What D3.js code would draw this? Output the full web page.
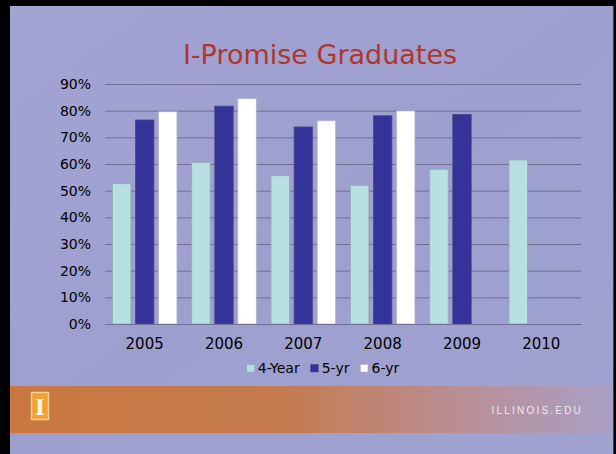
<!DOCTYPE html>
<html>
<head>
<meta charset="utf-8">
<script src="https://cdn.jsdelivr.net/npm/d3@7"></script>
<style>
  body { margin: 0; background: #000; }
  svg { display: block; font-family: 'DejaVu Sans', Verdana, sans-serif; }
</style>
</head>
<body>
<div id="chart"></div>
<script>
'use strict';

// datos
const years = ['2005', '2006', '2007', '2008', '2009', '2010'];
const seriesNames = ['4-Year', '5-yr', '6-yr'];
const fourYear = [0.526, 0.606, 0.556, 0.519, 0.580, 0.615];
const fiveYear = [0.765, 0.817, 0.739, 0.781, 0.786, null];
const sixYear = [0.796, 0.845, 0.762, 0.799, null, null];
const yTicks = [0, 0.1, 0.2, 0.3, 0.4, 0.5, 0.6, 0.7, 0.8, 0.9];

const colors = ['#b8e0e0', '#333399', '#ffffff'];
const strokes = ['#8fb0b4', '#4a4a8c', '#b4b4cc'];

drawSlide('#chart');

function drawSlide(el) {
  const width = 616;
  const height = 454;

  const svg = d3.select(el)
    .append('svg')
    .attr('width', width)
    .attr('height', height);

  const defs = svg.append('defs');
  const bg = defs.append('linearGradient')
    .attr('id', 'bg')
    .attr('x1', 0).attr('y1', 0).attr('x2', 1).attr('y2', 1);
  bg.append('stop').attr('offset', 0).attr('stop-color', '#a3a4d3');
  bg.append('stop').attr('offset', 0.5).attr('stop-color', '#9d9fcf');
  bg.append('stop').attr('offset', 1).attr('stop-color', '#a0a2d0');

  const band = defs.append('linearGradient')
    .attr('id', 'band')
    .attr('x1', 0).attr('y1', 0).attr('x2', 1).attr('y2', 0);
  band.append('stop').attr('offset', 0).attr('stop-color', '#c9773f');
  band.append('stop').attr('offset', 0.45).attr('stop-color', '#c47b4e');
  band.append('stop').attr('offset', 0.75).attr('stop-color', '#b98e96');
  band.append('stop').attr('offset', 1).attr('stop-color', '#a9a0c4');

  // fondo de la diapositiva
  svg.append('rect')
    .attr('x', 10).attr('y', 6)
    .attr('width', 603).attr('height', height - 6)
    .attr('fill', 'url(#bg)');
  svg.append('rect')
    .attr('x', 613).attr('y', 6)
    .attr('width', 1).attr('height', height - 6)
    .attr('fill', '#3a3a50');

  // franja naranja
  svg.append('rect')
    .attr('x', 10).attr('y', 386)
    .attr('width', 603).attr('height', 47)
    .attr('fill', 'url(#band)');

  // logo
  svg.append('rect')
    .attr('x', 31.5).attr('y', 392.5)
    .attr('width', 17).attr('height', 27)
    .attr('fill', '#f0a032')
    .attr('stroke', '#f7cf98')
    .attr('stroke-width', 1.5);
  svg.append('text')
    .attr('x', 40).attr('y', 415)
    .attr('text-anchor', 'middle')
    .attr('font-family', "'DejaVu Serif', serif")
    .attr('font-weight', 'bold')
    .attr('font-size', 22)
    .attr('fill', '#fff6e8')
    .text('I');

  svg.append('text')
    .attr('x', 583).attr('y', 414)
    .attr('text-anchor', 'end')
    .attr('font-family', "'Liberation Sans', Arial, sans-serif")
    .attr('font-size', 10)
    .attr('letter-spacing', 2.2)
    .attr('fill', '#eeeaf4')
    .text('ILLINOIS.EDU');

  // título
  svg.append('text')
    .attr('x', 320).attr('y', 64)
    .attr('text-anchor', 'middle')
    .attr('font-size', 27)
    .attr('fill', '#b0352c')
    .text('I-Promise Graduates');

  // escalas
  const x0 = d3.scaleBand()
    .domain(years)
    .range([105, 581]);

  const x1 = d3.scaleBand()
    .domain(seriesNames)
    .range([0, x0.bandwidth()])
    .paddingInner(0.2)
    .paddingOuter(0.32);

  const y = d3.scaleLinear()
    .domain([0, 0.9])
    .range([324, 84]);

  // rejilla
  const yAxis = d3.axisLeft(y)
    .tickValues(yTicks)
    .tickFormat(d3.format('.0%'))
    .tickSize(-(581 - 105))
    .tickPadding(14);

  const gy = svg.append('g')
    .attr('class', 'axisY')
    .attr('transform', 'translate(105,0)')
    .call(yAxis);
  gy.select('.domain').remove();
  gy.selectAll('.tick line')
    .attr('stroke', '#6f7091')
    .attr('stroke-width', 1);
  gy.selectAll('.tick text')
    .attr('font-size', 14)
    .attr('fill', '#000')
    .attr('font-family', "'DejaVu Sans', sans-serif");

  // barras
  const allSeries = [fourYear, fiveYear, sixYear];
  const rows = years.map((yr, i) => ({
    year: yr,
    values: seriesNames.map((s, k) => ({ key: s, k: k, v: allSeries[k][i] }))
      .filter(d => d.v !== null)
  }));

  const groups = svg.selectAll('g.year')
    .data(rows)
    .enter()
    .append('g')
    .attr('class', 'year')
    .attr('transform', d => `translate(${x0(d.year)},0)`);

  groups.selectAll('rect')
    .data(d => d.values)
    .enter()
    .append('rect')
    .attr('x', d => x1(d.key))
    .attr('y', d => y(d.v))
    .attr('width', x1.bandwidth())
    .attr('height', d => y(0) - y(d.v))
    .attr('fill', d => colors[d.k])
    .attr('stroke', d => strokes[d.k])
    .attr('stroke-width', 0.8);

  // eje X
  const xAxis = d3.axisBottom(x0).tickSize(0).tickPadding(14);
  const gx = svg.append('g')
    .attr('class', 'axisX')
    .attr('transform', `translate(0,${y(0)})`)
    .call(xAxis);
  gx.select('.domain')
    .attr('stroke', '#6f7091')
    .attr('stroke-width', 1);
  gx.selectAll('.tick text')
    .attr('font-size', 15)
    .attr('fill', '#000')
    .attr('font-family', "'DejaVu Sans', sans-serif");

  // leyenda
  const legend = svg.append('g').attr('class', 'legend');
  let lx = 0;
  seriesNames.forEach((name, k) => {
    const item = legend.append('g').attr('transform', `translate(${lx},0)`);
    item.append('rect')
      .attr('x', 0).attr('y', -8.5)
      .attr('width', 7.5).attr('height', 7.5)
      .attr('fill', colors[k])
      .attr('stroke', strokes[k])
      .attr('stroke-width', 0.6);
    const t = item.append('text')
      .attr('x', 11).attr('y', 0)
      .attr('font-size', 14)
      .attr('fill', '#000')
      .text(name);
    lx += 11 + t.node().getComputedTextLength() + 11;
  });
  const legendWidth = lx - 11;
  legend.attr('transform', `translate(${323 - legendWidth / 2},373)`);
}
</script>
</body>
</html>
